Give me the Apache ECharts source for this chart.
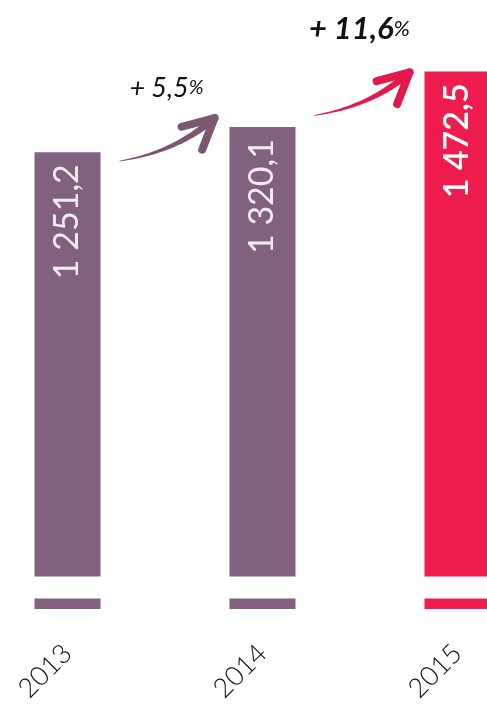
<!DOCTYPE html>
<html><head><meta charset="utf-8">
<script src="https://cdn.jsdelivr.net/npm/echarts@6/dist/echarts.min.js"></script>
<style>html,body{margin:0;padding:0;background:#fff}#c{width:487px;height:706px}</style>
</head><body><div id="c"></div>
<script>
const categories = ['2013', '2014', '2015'];
const values = [1251.2, 1320.1, 1472.5];
const valueLabels = ['1 251,2', '1 320,1', '1 472,5'];
const growthLabels = ['+ 5,5', '+ 11,6'];
const barColors = ['#82617e', '#82617e', '#ee1d4e'];
const arrowColors = ['#7a5874', '#e3194b'];
const breakLow = 29, breakHigh = 89;

const chart = echarts.init(document.getElementById('c'));
const font = 'Lato';
const option = {
  animation: false,
  grid: { left: -30, right: -68, top: 0, bottom: 97, containLabel: false, outerBoundsMode: 'none' },
  xAxis: {
    type: 'category', data: categories,
    axisLine: { show: false }, axisTick: { show: false },
    axisLabel: { rotate: 45, fontSize: 27, fontFamily: font, fontWeight: 300, color: '#111', margin: 40 }
  },
  yAxis: { type: 'value', min: 0, max: 1668, show: false, splitLine: { show: false } },
  series: [
    { type: 'bar', stack: 'a', barWidth: 66,
      data: values.map((v, i) => ({ value: breakLow, itemStyle: { color: barColors[i] } })) },
    { type: 'bar', stack: 'a', barWidth: 66, silent: true,
      data: values.map(() => breakHigh - breakLow), itemStyle: { color: 'rgba(0,0,0,0)' } },
    { type: 'bar', stack: 'a', barWidth: 66,
      data: values.map((v, i) => ({
        value: v - breakHigh, itemStyle: { color: barColors[i] },
        label: { color: i === 2 ? '#ffffff' : '#f2eaf1', fontWeight: i === 2 ? 600 : 400 }
      })),
      label: {
        show: true, position: 'insideTop', rotate: 90, align: 'right', verticalAlign: 'middle',
        distance: 12, fontSize: 34, fontFamily: font,
        formatter: p => valueLabels[p.dataIndex]
      } }
  ]
};
chart.setOption(option);

// decorative growth arrows between consecutive bars
const tipOffsets = [[-48, -9], [-48, 1]];
const textOffsets = [[-48, -30], [-50, -43]];
const graphics = [];
function quad(p0, c, p1, t) {
  const u = 1 - t;
  return [u*u*p0[0] + 2*u*t*c[0] + t*t*p1[0], u*u*p0[1] + 2*u*t*c[1] + t*t*p1[1]];
}
for (let i = 0; i < growthLabels.length; i++) {
  const top = chart.convertToPixel({ gridIndex: 0 }, [categories[i + 1], values[i + 1]]);
  const E = [top[0] + tipOffsets[i][0], top[1] + tipOffsets[i][1]];
  const S = [E[0] - 95, E[1] + 43];
  const C = [E[0] - 38, E[1] + 34];
  const N = 30, left = [], right = [];
  for (let k = 0; k <= N; k++) {
    const t = k / N;
    const p = quad(S, C, E, t);
    const d = [2*(1-t)*(C[0]-S[0]) + 2*t*(E[0]-C[0]), 2*(1-t)*(C[1]-S[1]) + 2*t*(E[1]-C[1])];
    const len = Math.hypot(d[0], d[1]);
    const n = [-d[1]/len, d[0]/len];
    const w = (0.4 + 3.4 * t);
    left.push([p[0] + n[0]*w, p[1] + n[1]*w]);
    right.push([p[0] - n[0]*w, p[1] - n[1]*w]);
  }
  graphics.push({ type: 'polygon', shape: { points: left.concat(right.reverse()) }, style: { fill: arrowColors[i] } });
  const dx = E[0] - C[0], dy = E[1] - C[1];
  const ang = Math.atan2(-dy, -dx);
  [0.47, -0.47].forEach(a => {
    const L = 34;
    graphics.push({ type: 'line', shape: { x1: E[0], y1: E[1], x2: E[0] + L*Math.cos(ang + a), y2: E[1] + L*Math.sin(ang + a) },
      style: { stroke: arrowColors[i], lineWidth: 8, lineCap: 'round' } });
  });
  graphics.push({ type: 'text', x: E[0] + textOffsets[i][0], y: E[1] + textOffsets[i][1],
    style: { text: '{a|' + growthLabels[i] + '}{b|%}', align: 'center', verticalAlign: 'middle',
      rich: {
        a: { fontSize: i === 0 ? 27 : 31, fontStyle: 'italic', fontWeight: i === 0 ? 400 : 700, fontFamily: font, fill: '#111' },
        b: { fontSize: i === 0 ? 20 : 22, fontStyle: 'italic', fontWeight: 400, fontFamily: font, fill: '#111' }
      } } });
}
chart.setOption({ graphic: graphics });
</script></body></html>
